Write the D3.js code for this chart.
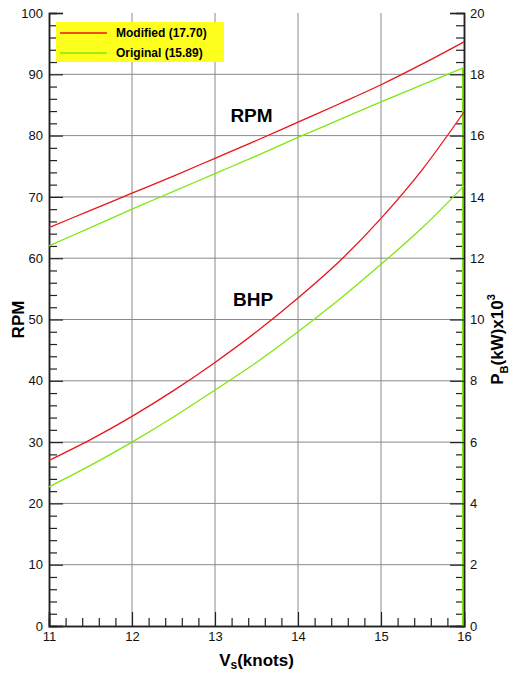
<!DOCTYPE html>
<html>
<head>
<meta charset="utf-8">
<script src="https://cdn.jsdelivr.net/npm/d3@7"></script>
<style>
  body { margin: 0; background: #fff; }
  svg { font-family: "Liberation Sans", Arial, sans-serif; }
  .lbl { font-weight: bold; }
</style>
</head>
<body>
<div class="chart"></div>
<script>
// speed (knots)
var speeds = [11, 11.5, 12, 12.5, 13, 13.5, 14, 14.5, 15, 15.5, 16];
// RPM (left axis)
var rpmModified = [65.0, 67.8, 70.6, 73.4, 76.3, 79.2, 82.2, 85.2, 88.3, 91.7, 95.3];
var rpmOriginal = [62.0, 65.0, 68.0, 70.9, 73.8, 76.7, 79.7, 82.6, 85.5, 88.3, 91.1];
// brake power, kW x 10^3 (right axis)
var bhpModified = [5.40, 6.08, 6.84, 7.68, 8.60, 9.60, 10.70, 11.90, 13.30, 14.90, 16.77];
var bhpOriginal = [4.54, 5.24, 6.00, 6.82, 7.70, 8.60, 9.60, 10.66, 11.80, 13.00, 14.36];

var legendItems = [
    { name: "Modified (17.70)", color: "#e8151b" },
    { name: "Original (15.89)", color: "#7ee80e" }
];
var xTicks = [11, 12, 13, 14, 15, 16];
var yTicks = d3.range(0, 101, 10);
var y2Ticks = d3.range(0, 21, 2);

var margin = { top: 13, right: 46, bottom: 47, left: 49 };
var width = 510 - margin.left - margin.right,
    height = 673 - margin.top - margin.bottom;

var svg = d3.select(".chart").append("svg")
    .attr("width", 510)
    .attr("height", 673)
    .append("g")
    .attr("transform", "translate(" + margin.left + "," + margin.top + ")");

var x = d3.scaleLinear().domain([11, 16]).range([0, width]);
var y = d3.scaleLinear().domain([0, 100]).range([height, 0]);
var y2 = d3.scaleLinear().domain([0, 20]).range([height, 0]);

// grid
svg.append("g").selectAll("line.vg")
    .data(xTicks.slice(1, -1))
    .enter().append("line")
    .attr("x1", function(d) { return x(d); })
    .attr("x2", function(d) { return x(d); })
    .attr("y1", 0).attr("y2", height)
    .attr("stroke", "#8a8a8a").attr("stroke-width", 1);

svg.append("g").selectAll("line.hg")
    .data(yTicks.slice(1, -1))
    .enter().append("line")
    .attr("x1", 0).attr("x2", width)
    .attr("y1", function(d) { return y(d); })
    .attr("y2", function(d) { return y(d); })
    .attr("stroke", "#8a8a8a").attr("stroke-width", 1);

// axes (ticks pointing inward)
var tickColor = "#222";
var xAxis = d3.axisBottom(x).tickValues(xTicks).tickSize(-14).tickPadding(6).tickFormat(d3.format("d"));
var xMinor = d3.axisBottom(x).tickValues(d3.range(11.2, 16, 0.2).filter(function(v) {
    return Math.abs(v - Math.round(v)) > 0.01; })).tickSize(-8).tickFormat("");
var yAxis = d3.axisLeft(y).tickValues(yTicks).tickSize(-14).tickPadding(6);
var yMinor = d3.axisLeft(y).tickValues(d3.range(2, 100, 2).filter(function(v) {
    return v % 10 !== 0; })).tickSize(-8).tickFormat("");
var y2Axis = d3.axisRight(y2).tickValues(y2Ticks).tickSize(-14).tickPadding(6);
var y2Minor = d3.axisRight(y2).tickValues(d3.range(0.4, 20, 0.4).filter(function(v) {
    return Math.abs(v / 2 - Math.round(v / 2)) > 0.01; })).tickSize(-8).tickFormat("");

function styleAxis(g) {
    g.selectAll("path").attr("stroke", tickColor).attr("stroke-width", 1.5);
    g.selectAll("line").attr("stroke", tickColor).attr("stroke-width", 1.2);
    g.selectAll("text").attr("font-size", 13).attr("fill", "#111")
        .attr("font-family", "Liberation Sans, Arial, sans-serif");
}

svg.append("g").attr("transform", "translate(0," + height + ")").call(xMinor).call(styleAxis);
svg.append("g").attr("transform", "translate(0," + height + ")").call(xAxis).call(styleAxis);
svg.append("g").call(yMinor).call(styleAxis);
svg.append("g").call(yAxis).call(styleAxis);
svg.append("g").attr("transform", "translate(" + width + ",0)").call(y2Minor).call(styleAxis);

// green drop along right edge from the original rpm end
svg.append("line")
    .attr("x1", x(16) - 1).attr("x2", x(16) - 1)
    .attr("y1", y(rpmOriginal[rpmOriginal.length - 1])).attr("y2", y(0))
    .attr("stroke", legendItems[1].color).attr("stroke-width", 2);

svg.append("g").attr("transform", "translate(" + width + ",0)").call(y2Axis).call(styleAxis);

// curves
var lineRpm = d3.line()
    .x(function(d, i) { return x(speeds[i]); })
    .y(function(d) { return y(d); })
    .curve(d3.curveMonotoneX);
var lineBhp = d3.line()
    .x(function(d, i) { return x(speeds[i]); })
    .y(function(d) { return y2(d); })
    .curve(d3.curveMonotoneX);

var series = [
    { data: rpmModified, fn: lineRpm, color: legendItems[0].color },
    { data: rpmOriginal, fn: lineRpm, color: legendItems[1].color },
    { data: bhpModified, fn: lineBhp, color: legendItems[0].color },
    { data: bhpOriginal, fn: lineBhp, color: legendItems[1].color }
];
svg.selectAll("path.series")
    .data(series)
    .enter().append("path")
    .attr("class", "series")
    .attr("fill", "none")
    .attr("stroke", function(d) { return d.color; })
    .attr("stroke-width", 1.3)
    .attr("d", function(d) { return d.fn(d.data); });

// in-plot labels
svg.append("text").attr("class", "lbl")
    .attr("x", x(13.44)).attr("y", y(82.2))
    .attr("text-anchor", "middle").attr("font-size", 19)
    .text("RPM");
svg.append("text").attr("class", "lbl")
    .attr("x", x(13.46)).attr("y", y(52.2))
    .attr("text-anchor", "middle").attr("font-size", 19)
    .text("BHP");

// legend
var legend = svg.append("g").attr("transform", "translate(7,9)");
legend.append("rect")
    .attr("width", 168).attr("height", 40)
    .attr("fill", "#ffff1e");
var li = legend.selectAll("g.item")
    .data(legendItems)
    .enter().append("g")
    .attr("transform", function(d, i) { return "translate(0," + (11 + i * 20) + ")"; });
li.append("line")
    .attr("x1", 4).attr("x2", 51)
    .attr("stroke", function(d) { return d.color; })
    .attr("stroke-width", 1.3);
li.append("text")
    .attr("x", 60).attr("y", 4)
    .attr("font-size", 12).attr("font-weight", "bold")
    .text(function(d) { return d.name; });

// axis titles
var lx = svg.append("text").attr("class", "lbl")
    .attr("x", width / 2).attr("y", height + 40)
    .attr("text-anchor", "middle").attr("font-size", 17);
lx.append("tspan").text("V");
lx.append("tspan").attr("font-size", 12).attr("dy", 3).text("s");
lx.append("tspan").attr("dy", -3).text("(knots)");

svg.append("text").attr("class", "lbl")
    .attr("transform", "translate(-25," + (height / 2) + ") rotate(-90)")
    .attr("text-anchor", "middle").attr("font-size", 17)
    .text("RPM");

var ly = svg.append("text").attr("class", "lbl")
    .attr("transform", "translate(" + (width + 39) + "," + (height / 2 + 20) + ") rotate(-90)")
    .attr("text-anchor", "middle").attr("font-size", 17);
ly.append("tspan").text("P");
ly.append("tspan").attr("font-size", 11).attr("dy", 5).text("B");
ly.append("tspan").attr("dy", -5).text("(kW)x10");
ly.append("tspan").attr("font-size", 11).attr("dy", -8).text("3");
</script>
</body>
</html>
